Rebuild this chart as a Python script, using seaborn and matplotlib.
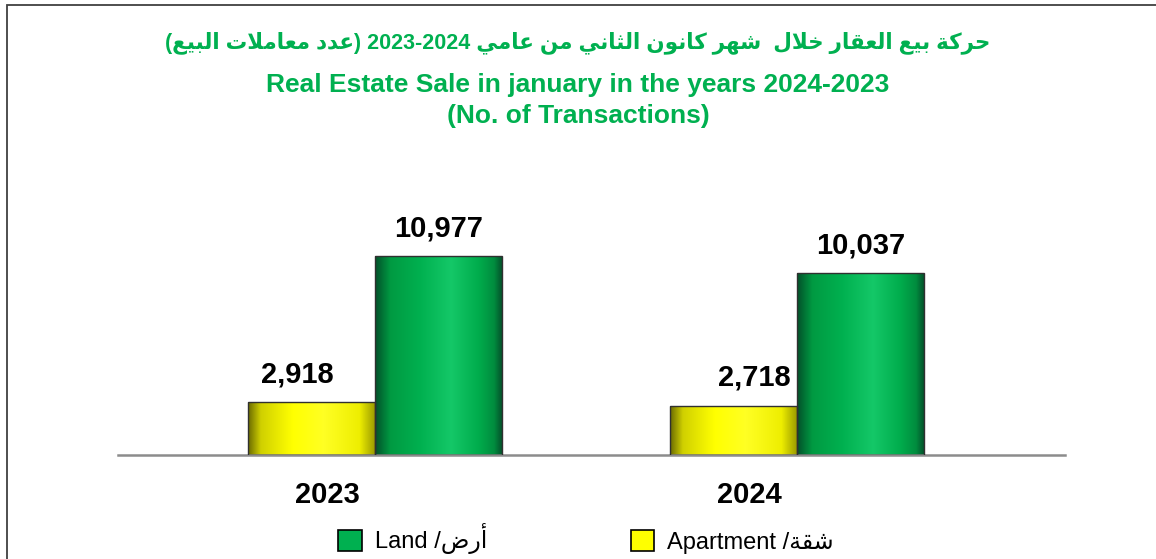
import numpy as np
import pandas as pd
import matplotlib
matplotlib.use("Agg")
import matplotlib.pyplot as plt
import matplotlib.transforms as mtransforms
from matplotlib.colors import LinearSegmentedColormap
from matplotlib.patches import Patch, Rectangle
import seaborn as sns
import re

years = ["2023", "2024"]
apartment = [2918, 2718]
land = [10977, 10037]

title_ar = "حركة بيع العقار خلال  شهر كانون الثاني من عامي 2024-2023 (عدد معاملات البيع)"
title_en1 = "Real Estate Sale in january in the years 2024-2023"
title_en2 = "(No. of Transactions)"
label_land = "أرض/ Land"
label_apt = "شقة/ Apartment"

GREEN = "#00b050"
YELLOW = "#ffff00"

# presentation forms: (isolated code, number of forms)
FORMS = {
    "ا": (0xFE8D, 2), "أ": (0xFE83, 2), "ب": (0xFE8F, 4), "ة": (0xFE93, 2),
    "ت": (0xFE95, 4), "ث": (0xFE99, 4), "ح": (0xFEA1, 4), "خ": (0xFEA5, 4),
    "د": (0xFEA9, 2), "ر": (0xFEAD, 2), "ش": (0xFEB5, 4), "ض": (0xFEBD, 4),
    "ع": (0xFEC9, 4), "ق": (0xFED5, 4), "ك": (0xFED9, 4), "ل": (0xFEDD, 4),
    "م": (0xFEE1, 4), "ن": (0xFEE5, 4), "ه": (0xFEE9, 4), "و": (0xFEED, 2),
    "ي": (0xFEF1, 4),
}


def rtl(text):
    """Shape arabic letters and put the string in visual order."""
    out = []
    n = len(text)
    i = 0
    while i < n:
        c = text[i]
        if c not in FORMS:
            out.append(c)
            i += 1
            continue
        prev = i > 0 and text[i - 1] in FORMS and FORMS[text[i - 1]][1] == 4
        if c == "ل" and i + 1 < n and text[i + 1] in "اأ":
            base = 0xFEFB if text[i + 1] == "ا" else 0xFEF7
            out.append(chr(base + (1 if prev else 0)))
            i += 2
            continue
        base, k = FORMS[c]
        nxt = k == 4 and i + 1 < n and text[i + 1] in FORMS
        if k == 2:
            form = 1 if prev else 0
        else:
            form = 3 if (prev and nxt) else 1 if prev else 2 if nxt else 0
        out.append(chr(base + form))
        i += 1
    s = "".join(out)[::-1]
    s = re.sub(r"[A-Za-z0-9,]+", lambda m: m.group(0)[::-1], s)
    return s.translate(str.maketrans("()", ")("))


df = pd.DataFrame({
    "year": years * 2,
    "count": apartment + land,
    "type": ["Apartment"] * len(years) + ["Land"] * len(years),
})

sns.set_theme(style="white")
plt.rcParams["font.family"] = ["Liberation Sans", "DejaVu Sans"]
plt.rcParams["text.color"] = "black"

fig = plt.figure(figsize=(11.56, 5.59), dpi=100)
ax = fig.add_axes([118 / 1156, 104 / 559, 947 / 1156, 305 / 559])

sns.barplot(data=df, x="year", y="count", hue="type", hue_order=["Apartment", "Land"],
            palette=[YELLOW, GREEN], width=0.6, edgecolor="#303030", linewidth=1,
            legend=False, ax=ax)

cmaps = {
    "Apartment": LinearSegmentedColormap.from_list("y", [
        (0, "#6a6a00"), (0.1, "#d0d000"), (0.35, "#ffff00"), (0.6, "#ffff24"),
        (0.88, "#eeee00"), (1, "#9c9c00")]),
    "Land": LinearSegmentedColormap.from_list("g", [
        (0, "#03502a"), (0.12, "#009a42"), (0.35, "#00b04f"), (0.6, "#14c868"),
        (0.82, "#00ac4c"), (0.94, "#008c3e"), (1, "#04542c")]),
}
grad = np.linspace(0, 1, 256).reshape(1, -1)
types = ["Apartment"] * len(years) + ["Land"] * len(years)
for patch, t in zip(ax.patches, types):
    x0, y0 = patch.get_x(), patch.get_y()
    w, h = patch.get_width(), patch.get_height()
    im = ax.imshow(grad, extent=[x0, x0 + w, y0, y0 + h], aspect="auto",
                   cmap=cmaps[t], zorder=2, interpolation="bilinear")
    im.set_clip_path(patch)
    patch.set_facecolor("none")
    patch.set_zorder(3)

for cont in ax.containers:
    ax.bar_label(cont, labels=[f"{v:,.0f}" for v in cont.datavalues], padding=10,
                 fontsize=21, fontweight="bold", color="black")

# the apartment labels sit a little off centre in the original
apt_shift = [-10.5, 14.5]
for txt, dx in zip(ax.texts[:len(years)], apt_shift):
    txt.xyann = (dx, txt.xyann[1])

ax.set_xlim(-0.609, 1.635)
ax.set_ylim(0, 16823)
ax.set_xlabel("")
ax.set_ylabel("")
ax.set_yticks([])
for side in ["left", "right", "top"]:
    ax.spines[side].set_visible(False)
ax.spines["bottom"].set_color("#8c8c8c")
ax.spines["bottom"].set_linewidth(1.8)
ax.tick_params(axis="x", length=0, pad=19, labelcolor="black")
for lab in ax.get_xticklabels():
    lab.set_fontsize(21)
    lab.set_fontweight("bold")
    lab.set_transform(lab.get_transform() +
                      mtransforms.ScaledTranslation(-0.48, 0, fig.dpi_scale_trans))

fig.text(0.5, 1 - 43 / 559, rtl(title_ar), ha="center", va="center",
         fontsize=15.5, fontweight="bold", color=GREEN)
fig.text(0.5, 1 - 85 / 559, title_en1, ha="center", va="center",
         fontsize=19, fontweight="bold", color=GREEN)
fig.text(0.5, 1 - 116 / 559, title_en2, ha="center", va="center",
         fontsize=19, fontweight="bold", color=GREEN)

handles = [Patch(facecolor=GREEN, edgecolor="black", linewidth=1.2),
           Patch(facecolor=YELLOW, edgecolor="black", linewidth=1.2)]
fig.legend(handles, [rtl(label_land), rtl(label_apt)], loc="center",
           bbox_to_anchor=(586 / 1156, 1 - 539 / 559), ncol=2, frameon=False,
           prop={"size": 17}, handlelength=1.0, handleheight=1.0,
           handletextpad=0.55, columnspacing=6.1, labelcolor="black")

fig.add_artist(Rectangle((7 / 1156, -0.2), 1.2, 1.2 - 5 / 559, transform=fig.transFigure,
                         fill=False, edgecolor="#404040", linewidth=1.3))

fig.savefig("out.png", dpi=100)
